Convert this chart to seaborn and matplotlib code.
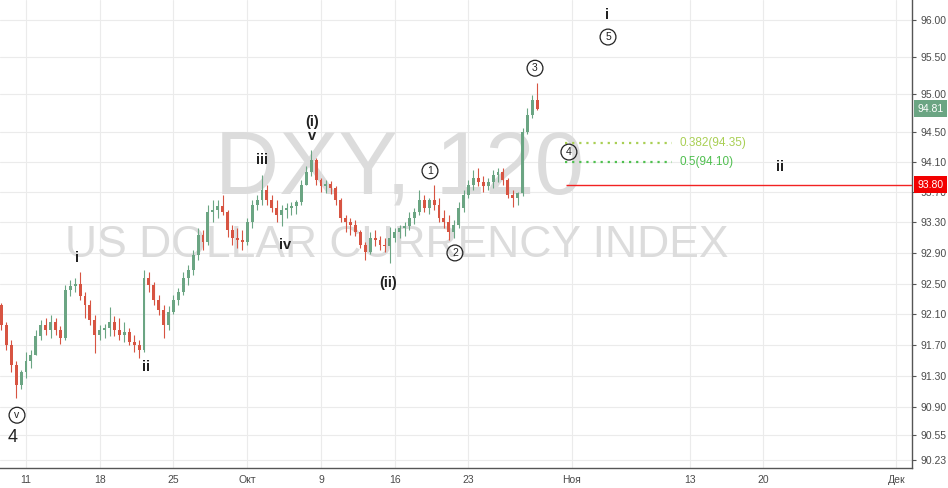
import numpy as np
import matplotlib
matplotlib.use("Agg")
import matplotlib.pyplot as plt
from matplotlib.ticker import FixedLocator, FuncFormatter, NullLocator
import seaborn as sns

# %% data: DXY 120, resampled to 3 candles per trading day
# x = trading days since Mon 11 Sep (weekends skipped, as TradingView does)
first_open = 92.22
close = [91.96, 91.70, 91.45, 91.19, 91.36, 91.49, 91.58, 91.82, 91.96, 91.90,
         92.00, 91.90, 91.79, 92.42, 92.47, 92.49, 92.34, 92.22, 92.03, 91.83,
         91.90, 91.92, 92.00, 91.90, 91.83, 91.87, 91.74, 91.70, 91.64, 92.57,
         92.48, 92.29, 92.16, 91.96, 92.13, 92.29, 92.39, 92.57, 92.68, 92.87,
         93.14, 93.04, 93.44, 93.46, 93.52, 93.44, 93.20, 93.10, 93.07, 93.04,
         93.31, 93.53, 93.60, 93.73, 93.60, 93.49, 93.40, 93.46, 93.49, 93.52,
         93.57, 93.79, 93.97, 94.12, 93.86, 93.78, 93.81, 93.75, 93.60, 93.36,
         93.31, 93.27, 93.17, 93.00, 92.91, 93.10, 93.07, 93.00, 92.99, 93.10,
         93.17, 93.23, 93.25, 93.36, 93.44, 93.60, 93.49, 93.60, 93.53, 93.36,
         93.31, 93.17, 93.27, 93.49, 93.66, 93.79, 93.89, 93.83, 93.78, 93.83,
         93.93, 93.97, 93.86, 93.66, 93.62, 93.69, 94.50, 94.72, 94.92, 94.81]
high = [92.25, 92.00, 91.77, 91.49, 91.38, 91.61, 91.64, 91.90, 92.03, 92.05,
        92.09, 92.05, 91.95, 92.48, 92.55, 92.57, 92.65, 92.39, 92.29, 92.09,
        91.96, 91.98, 92.20, 92.08, 92.05, 92.00, 91.92, 91.83, 91.77, 92.68,
        92.65, 92.52, 92.35, 92.22, 92.21, 92.35, 92.44, 92.65, 92.74, 92.94,
        93.23, 93.20, 93.53, 93.60, 93.60, 93.66, 93.46, 93.27, 93.23, 93.20,
        93.36, 93.60, 93.66, 93.93, 93.79, 93.66, 93.60, 93.53, 93.56, 93.57,
        93.60, 93.86, 94.05, 94.26, 94.15, 93.89, 93.86, 93.85, 93.78, 93.62,
        93.40, 93.36, 93.33, 93.20, 93.04, 93.17, 93.20, 93.12, 93.10, 93.24,
        93.23, 93.27, 93.31, 93.44, 93.49, 93.73, 93.66, 93.62, 93.79, 93.62,
        93.46, 93.40, 93.33, 93.57, 93.73, 93.86, 93.99, 94.02, 93.91, 93.89,
        93.99, 94.02, 94.02, 93.89, 93.73, 93.70, 94.55, 94.82, 94.99, 95.15]
low = [91.90, 91.64, 91.36, 91.02, 91.13, 91.28, 91.41, 91.58, 91.77, 91.83,
       91.79, 91.83, 91.72, 91.77, 92.34, 92.39, 92.29, 92.05, 91.96, 91.60,
       91.77, 91.79, 91.82, 91.82, 91.77, 91.74, 91.70, 91.61, 91.54, 91.61,
       92.39, 92.22, 92.09, 91.79, 91.90, 92.10, 92.22, 92.35, 92.48, 92.61,
       92.81, 92.94, 93.00, 93.31, 93.36, 93.40, 93.11, 93.00, 92.96, 92.94,
       93.00, 93.23, 93.46, 93.53, 93.53, 93.44, 93.31, 93.25, 93.36, 93.40,
       93.41, 93.53, 93.79, 93.91, 93.79, 93.70, 93.69, 93.67, 93.53, 93.31,
       93.17, 93.14, 93.12, 92.96, 92.81, 92.89, 92.99, 92.94, 92.91, 92.77,
       93.04, 93.10, 93.12, 93.20, 93.28, 93.40, 93.44, 93.41, 93.46, 93.31,
       93.23, 93.07, 93.10, 93.23, 93.44, 93.62, 93.73, 93.78, 93.70, 93.73,
       93.75, 93.83, 93.79, 93.62, 93.50, 93.53, 93.65, 94.47, 94.68, 94.79]

x_tick_pos = [0, 5, 10, 15, 20, 25, 30, 37, 45, 50, 59]
x_tick_labels = ["11", "18", "25", "Окт", "9", "16", "23", "Ноя", "13", "20", "Дек"]
y_ticks = [96.00, 95.50, 95.00, 94.50, 94.10, 93.70, 93.30, 92.90, 92.50,
           92.10, 91.70, 91.30, 90.90, 90.55, 90.23]

fib_names = ["0.382", "0.5"]
fib_prices = [94.35, 94.10]
fib_colors = ["#a9cf54", "#4fbf4f"]
target_price = 93.80
last_price = 94.81

# elliott wave marks: (text, day, price)
wave_labels = [("i", 3.46, 92.83), ("ii", 8.14, 91.42), ("iii", 16.0, 94.12),
               ("iv", 17.56, 93.00), ("(i)", 19.39, 94.63), ("v", 19.39, 94.44),
               ("(ii)", 24.54, 92.51), ("i", 39.39, 96.07), ("ii", 51.12, 94.03)]
wave_circled = [("v", -0.61, 90.80), ("1", 27.39, 93.98), ("2", 29.08, 92.90),
                ("3", 34.51, 95.35), ("4", 36.81, 94.23), ("5", 39.46, 95.77)]

# %% plot
sns.set_style("white")
plt.rcParams['font.family'] = ['Liberation Sans', 'DejaVu Sans']

fig = plt.figure(figsize=(9.48, 4.88), dpi=100)
ax = fig.add_axes([0, 20 / 488, 912 / 948, 468 / 488])

close = np.array(close)
opn = np.concatenate([[first_open], close[:-1]])
high = np.maximum.reduce([np.array(high), opn, close])
low = np.minimum.reduce([np.array(low), opn, close])
day = np.arange(len(close)) / 3 - 5 / 3

up = close >= opn
colors = np.where(up, "#6ba583", "#d75442")
ax.vlines(day, low, high, colors=colors, lw=0.8, zorder=3)
ax.bar(day, np.maximum(np.abs(close - opn), 0.006), bottom=np.minimum(opn, close),
       width=0.2, color=colors, edgecolor="none", zorder=3)

ax.set_yscale("log")
ax.set_ylim(90.127, 96.271)
ax.set_xlim(-1.763, 60.07)
ax.yaxis.set_major_locator(FixedLocator(y_ticks))
ax.yaxis.set_minor_locator(NullLocator())
ax.yaxis.set_major_formatter(FuncFormatter(lambda v, p: "%.2f" % v))
ax.yaxis.tick_right()
ax.set_xticks(x_tick_pos)
ax.set_xticklabels(x_tick_labels)
ax.tick_params(axis="both", colors="#555555", labelsize=7.5, length=3, width=0.8,
               direction="out")
ax.tick_params(axis="y", pad=3)
ax.tick_params(axis="x", pad=2)
for lab in ax.get_xticklabels() + ax.get_yticklabels():
    lab.set_color("#4a4a4a")

ax.grid(True, color="#ebebeb", lw=0.8, zorder=0)
ax.set_axisbelow(True)
for s in ["left", "top"]:
    ax.spines[s].set_visible(False)
for s in ["right", "bottom"]:
    ax.spines[s].set_color("#555555")
    ax.spines[s].set_linewidth(1.0)

# watermark
ax.text(0.4386, 0.5876, "DXY, 120", transform=ax.transAxes, ha="center", va="baseline",
        fontsize=64, color="#dcdcdc", zorder=1)
ax.text(0.435, 0.4509, "US DOLLAR CURRENCY INDEX", transform=ax.transAxes, ha="center",
        va="baseline", fontsize=32, color="#dcdcdc", zorder=1)

# fib retracement + target line
for name, price, col in zip(fib_names, fib_prices, fib_colors):
    ax.hlines(price, 36.54, 43.8, colors=col, lw=1.6, linestyles=(0, (1, 2.2)), zorder=4)
    ax.text(44.34, price, "%s(%.2f)" % (name, price), color=col, fontsize=8.5,
            ha="left", va="center", zorder=4)
ax.hlines(target_price, 36.6, 60.07, colors="#f22222", lw=1.0, zorder=4)

# price tags on the scale
ytr = ax.get_yaxis_transform()
ax.text(1.006, last_price, "%.2f" % last_price, transform=ytr, color="white", fontsize=7.5,
        ha="left", va="center", clip_on=False, zorder=6,
        bbox=dict(boxstyle="square,pad=0.32", fc="#6ba583", ec="none"))
ax.text(1.006, target_price, "%.2f" % target_price, transform=ytr, color="white",
        fontsize=7.5, ha="left", va="center", clip_on=False, zorder=6,
        bbox=dict(boxstyle="square,pad=0.32", fc="#f20000", ec="none"))

# wave counts
for txt, d, p in wave_labels:
    ax.text(d, p, txt, ha="center", va="center", fontsize=10.5, fontweight="bold",
            color="#222222", zorder=5)
for txt, d, p in wave_circled:
    ax.text(d, p, txt, ha="center", va="center", fontsize=7.5, color="#222222", zorder=5,
            bbox=dict(boxstyle="circle,pad=0.28", fc="none", ec="#222222", lw=0.9))
ax.text(-0.88, 90.52, "4", ha="center", va="center", fontsize=13, color="#222222", zorder=5)

fig.savefig("out.png", dpi=100)
